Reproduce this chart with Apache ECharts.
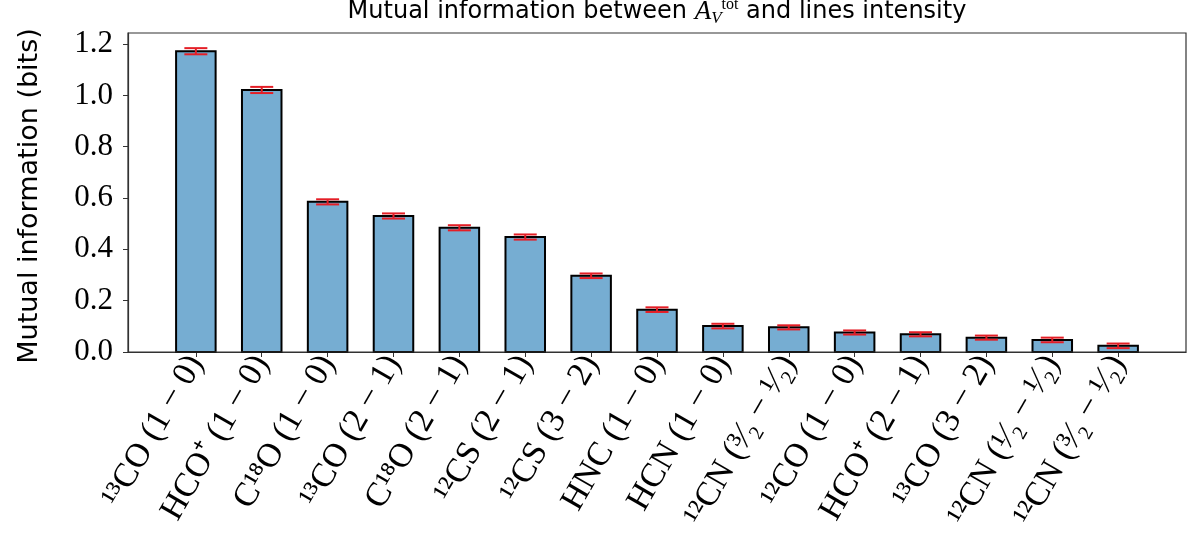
<!DOCTYPE html>
<html>
<head>
<meta charset="utf-8">
<script src="https://cdn.jsdelivr.net/npm/echarts@6/dist/echarts.min.js"></script>
<style>html,body{margin:0;padding:0;background:#fff}#c{width:1196px;height:555px}</style>
</head>
<body>
<div id="c"></div>
<script>
const categories = [
  "¹³CO (1 − 0)", "HCO⁺ (1 − 0)", "C¹⁸O (1 − 0)", "¹³CO (2 − 1)", "C¹⁸O (2 − 1)",
  "¹²CS (2 − 1)", "¹²CS (3 − 2)", "HNC (1 − 0)", "HCN (1 − 0)", "¹²CN (³⁄₂ − ¹⁄₂)",
  "¹²CO (1 − 0)", "HCO⁺ (2 − 1)", "¹³CO (3 − 2)", "¹²CN (¹⁄₂ − ¹⁄₂)", "¹²CN (³⁄₂ − ¹⁄₂)"
];
const values = [1.172, 1.021, 0.585, 0.530, 0.484, 0.448, 0.297, 0.165, 0.101, 0.096, 0.076, 0.069, 0.056, 0.047, 0.024];
const errors = [0.012, 0.012, 0.010, 0.010, 0.010, 0.010, 0.009, 0.009, 0.009, 0.008, 0.008, 0.008, 0.008, 0.009, 0.009];
const yTicks = [0, 0.2, 0.4, 0.6, 0.8, 1.0, 1.2];

const barData = values.map((v, i) => [i, v]);
const errData = values.map((v, i) => [i, v - errors[i], v + errors[i]]);

const chart = echarts.init(document.getElementById('c'));
chart.setOption({
  animation: false,
  grid: { left: 128, right: 10, top: 33, bottom: 203 },
  xAxis: {
    type: 'value', min: -1.03, max: 15.03,
    splitLine: { show: false },
    axisLine: { show: true, onZero: false, lineStyle: { color: '#333', width: 1.2 } },
    axisTick: { show: true, length: 5, lineStyle: { color: '#333' }, customValues: categories.map((c, i) => i) },
    axisLabel: {
      customValues: categories.map((c, i) => i),
      formatter: v => categories[Math.round(v)] || '',
      rotate: 60, fontFamily: 'Liberation Serif', fontSize: 34, color: '#000', margin: 6
    }
  },
  yAxis: {
    type: 'value', min: 0, max: 1.243,
    splitLine: { show: false },
    axisLine: { show: true, onZero: false, lineStyle: { color: '#333', width: 1.2 } },
    axisTick: { show: true, length: 5, lineStyle: { color: '#333' }, customValues: yTicks },
    axisLabel: {
      customValues: yTicks,
      formatter: v => v.toFixed(1),
      fontFamily: 'Liberation Serif', fontSize: 31, color: '#000', margin: 15
    }
  },
  graphic: [
    { type: 'rect', shape: { x: 128, y: 33, width: 1058, height: 319 }, style: { fill: 'none', stroke: '#333', lineWidth: 1.2 }, silent: true, z: 10 },
    {
      type: 'text', x: 657, y: 12,
      style: {
        text: '{n|Mutual information between }{a|A}{v|V}{t|tot}{n| and lines intensity}',
        align: 'center', verticalAlign: 'middle',
        rich: {
          n: { fontFamily: 'DejaVu Sans', fontSize: 24, fill: '#000', lineHeight: 30 },
          a: { fontFamily: 'Liberation Serif', fontStyle: 'italic', fontSize: 27, fill: '#000', lineHeight: 30 },
          v: { fontFamily: 'Liberation Serif', fontStyle: 'italic', fontSize: 17, fill: '#000', lineHeight: 30, verticalAlign: 'bottom' },
          t: { fontFamily: 'Liberation Serif', fontSize: 16, fill: '#000', lineHeight: 30, verticalAlign: 'top' }
        }
      }
    },
    {
      type: 'text', x: 30, y: 196, rotation: Math.PI / 2,
      style: { text: 'Mutual information (bits)', fontFamily: 'DejaVu Sans', fontSize: 27, fill: '#000', align: 'center', verticalAlign: 'middle' }
    }
  ],
  series: [
    {
      type: 'custom',
      data: barData,
      renderItem: (params, api) => {
        const x = api.value(0), y = api.value(1);
        const p0 = api.coord([x - 0.3, 0]);
        const p1 = api.coord([x + 0.3, y]);
        return {
          type: 'rect',
          shape: { x: p0[0], y: p1[1], width: p1[0] - p0[0], height: p0[1] - p1[1] },
          style: { fill: '#76add2', stroke: '#000', lineWidth: 2 }
        };
      },
      z: 2
    },
    {
      type: 'custom',
      data: errData,
      renderItem: (params, api) => {
        const x = api.value(0);
        const lo = api.coord([x, api.value(1)]);
        const hi = api.coord([x, api.value(2)]);
        const c = 11.5;
        const st = { stroke: '#e41e26', lineWidth: 2 };
        return {
          type: 'group',
          children: [
            { type: 'line', shape: { x1: lo[0], y1: lo[1], x2: hi[0], y2: hi[1] }, style: st },
            { type: 'line', shape: { x1: lo[0] - c, y1: lo[1], x2: lo[0] + c, y2: lo[1] }, style: st },
            { type: 'line', shape: { x1: hi[0] - c, y1: hi[1], x2: hi[0] + c, y2: hi[1] }, style: st }
          ]
        };
      },
      z: 3
    }
  ]
});
</script>
</body>
</html>
